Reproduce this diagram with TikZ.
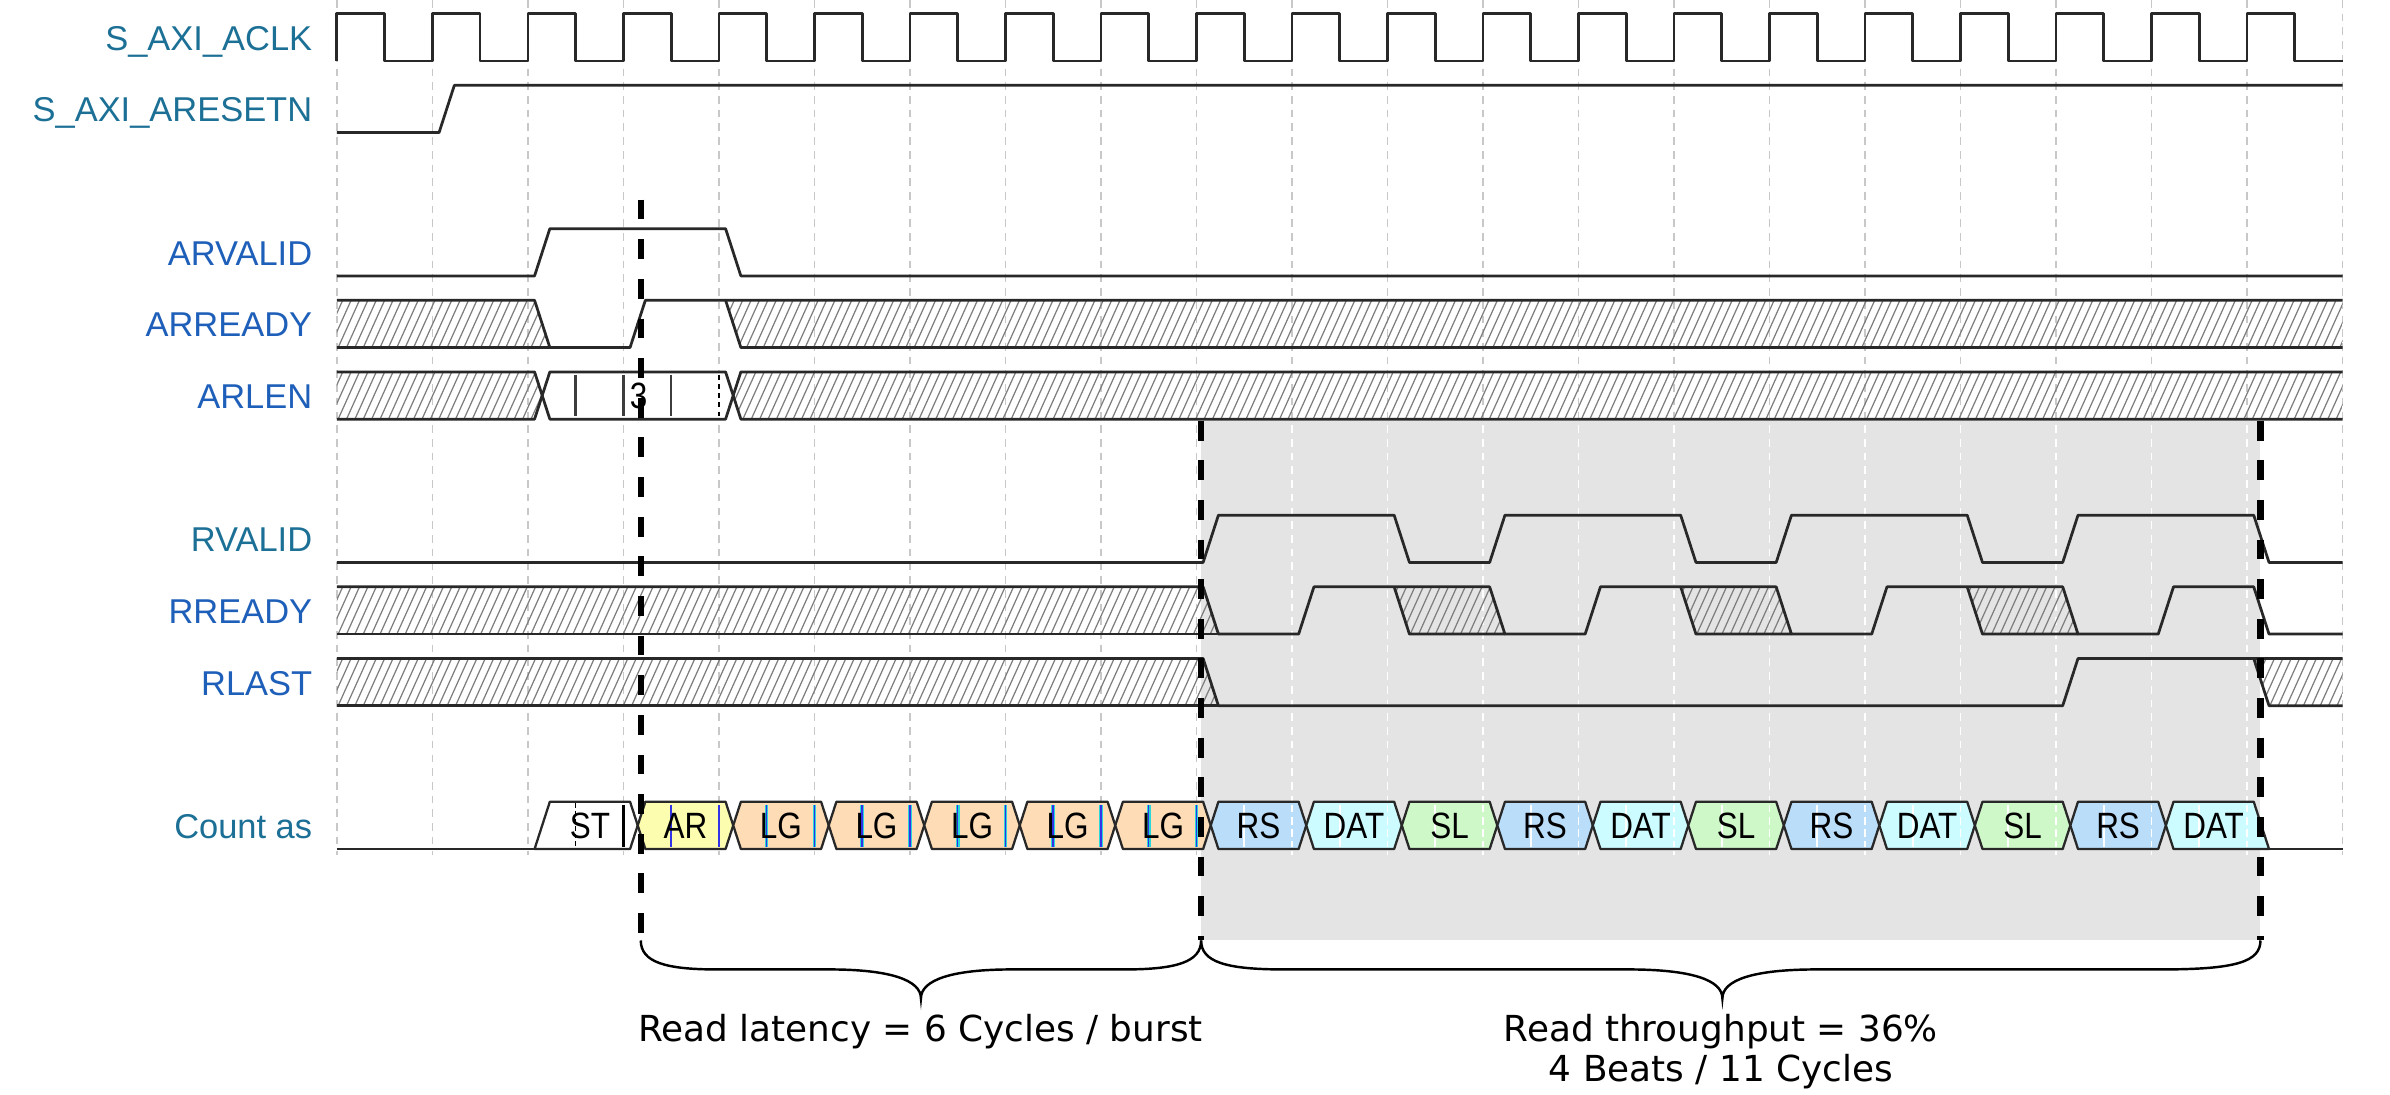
\documentclass[tikz,border=0pt]{standalone}
\usepackage{fontspec}
\setmainfont{Liberation Sans}
\newfontfamily\djv{DejaVu Sans}
\newfontfamily\boxfont[FakeStretch=0.86]{Liberation Sans}
\definecolor{lblT}{RGB}{28,112,150}
\definecolor{lblB}{RGB}{30,95,185}
\definecolor{sig}{RGB}{40,40,40}
\definecolor{gridc}{RGB}{200,200,200}
\definecolor{shadegray}{RGB}{228,228,228}
\definecolor{hat}{RGB}{125,125,125}
\definecolor{cAR}{RGB}{253,253,176}
\definecolor{cLG}{RGB}{253,220,182}
\definecolor{cRS}{RGB}{186,221,250}
\definecolor{cDAT}{RGB}{204,252,255}
\definecolor{cSL}{RGB}{206,248,200}
\definecolor{artB}{RGB}{50,50,230}
\definecolor{artC}{RGB}{40,215,215}
\tikzset{
  wave/.style={draw=sig, line width=1.8pt, line join=round},
  boxline/.style={draw=sig, line width=1.5pt, line join=round},
  hatchline/.style={draw=hat, line width=0.8pt},
  gridline/.style={draw=gridc, line width=1pt, dash pattern=on 5pt off 4pt},
  marker/.style={draw=black, line width=4pt, dash pattern=on 13pt off 13pt},
  bracepath/.style={draw=black, line width=1.6pt},
  siglabel/.style={anchor=base east, font=\fontsize{22.6}{26}\selectfont, inner sep=0pt},
  boxtext/.style={anchor=base, font=\boxfont\fontsize{24}{28}\selectfont, text=black, inner sep=0pt},
  note/.style={anchor=base, font=\djv\fontsize{23.5}{28}\selectfont, inner sep=0pt},
}
\newcommand{\hatchin}[4]{%
  \begin{scope}
    \clip #1;
    \pgfmathsetmacro{\hstart}{#3}%
    \pgfmathsetmacro{\hnext}{#3+0.0878}%
    \pgfmathsetmacro{\hend}{#4}%
    \foreach \hh in {\hstart,\hnext,...,\hend} {\draw[hatchline] (\hh,#2) -- (\hh+0.2234,#2-31);}
  \end{scope}}
\begin{document}
\begin{tikzpicture}[x=1pt,y=-1pt]
\useasboundingbox[fill=white] (0,0) rectangle (1568,718);
% shaded region
\fill[shadegray] (788,276) rectangle (1483,617);
\begin{scope}[x=62.66pt, xshift=221pt]
  % grid
  \foreach \k in {0,...,21} \draw[gridline] (\k,0) -- (\k,561);
  \begin{scope}
    \clip (9.049,276) rectangle (20.14,617);
    \foreach \k in {0,...,21} \draw[white, line width=1.2pt, dash pattern=on 5pt off 4pt] (\k,0) -- (\k,561);
  \end{scope}
  % S_AXI_ACLK
  \draw[wave] (0,40) \foreach \k in {0,...,20} { -- (\k,9) -- (\k+0.5,9) -- (\k+0.5,40) -- (\k+1,40) };
  % S_AXI_ARESETN
  \draw[wave] (0,87) -- (1.07,87) -- (1.23,56) -- (21,56);
  % ARVALID
  \draw[wave] (0,181) -- (2.07,181) -- (2.23,150) -- (4.07,150) -- (4.23,181) -- (21,181);
  % ARREADY
  \hatchin{(0,197) -- (2.07,197) -- (2.23,228) -- (0,228) -- cycle}{228}{-0.25}{2.3}
  \hatchin{(4.07,197) -- (21,197) -- (21,228) -- (4.23,228) -- cycle}{228}{3.85}{21}
  \draw[wave] (0,197) -- (2.07,197) -- (2.23,228);
  \draw[wave] (0,228) -- (3.07,228) -- (3.23,197) -- (21,197);
  \draw[wave] (4.07,197) -- (4.23,228) -- (21,228);
  % ARLEN
  \hatchin{(0,244) -- (2.07,244) -- (2.15,259.5) -- (2.07,275) -- (0,275) -- cycle}{275}{-0.25}{2.2}
  \fill[white] (2.15,259.5) -- (2.23,244) -- (4.07,244) -- (4.15,259.5) -- (4.07,275) -- (2.23,275) -- cycle;
  \hatchin{(4.15,259.5) -- (4.23,244) -- (21,244) -- (21,275) -- (4.23,275) -- cycle}{275}{3.9}{21}
  \foreach \v in {2.5,3.0,3.5} \draw[sig!90, line width=1.5pt] (\v,246) -- (\v,273);
  \draw[black, line width=1.5pt, dash pattern=on 3pt off 3pt] (4.0,246) -- (4.0,273);
  \draw[wave] (0,244) -- (2.07,244) -- (2.23,275) -- (4.07,275) -- (4.23,244) -- (21,244);
  \draw[wave] (0,275) -- (2.07,275) -- (2.23,244) -- (4.07,244) -- (4.23,275) -- (21,275);
  \node[boxtext] (arlen3) at (3.16,268) {3};
  % RVALID
  \draw[wave] (0,369) -- (9.07,369) -- (9.23,338) -- (11.07,338) -- (11.23,369) -- (12.07,369) -- (12.23,338) -- (14.07,338) -- (14.23,369) -- (15.07,369) -- (15.23,338) -- (17.07,338) -- (17.23,369) -- (18.07,369) -- (18.23,338) -- (20.07,338) -- (20.23,369) -- (21,369);
  % RREADY
  \hatchin{(0,385) -- (9.07,385) -- (9.23,416) -- (0,416) -- cycle}{416}{-0.25}{9.3}
  \hatchin{(11.07,385) -- (12.07,385) -- (12.23,416) -- (11.23,416) -- cycle}{416}{10.8}{12.3}
  \hatchin{(14.07,385) -- (15.07,385) -- (15.23,416) -- (14.23,416) -- cycle}{416}{13.8}{15.3}
  \hatchin{(17.07,385) -- (18.07,385) -- (18.23,416) -- (17.23,416) -- cycle}{416}{16.8}{18.3}
  \draw[wave] (0,385) -- (9.07,385) -- (9.23,416) -- (10.07,416) -- (10.23,385) -- (12.07,385) -- (12.23,416) -- (13.07,416) -- (13.23,385) -- (15.07,385) -- (15.23,416) -- (16.07,416) -- (16.23,385) -- (18.07,385) -- (18.23,416) -- (19.07,416) -- (19.23,385) -- (20.07,385) -- (20.23,416) -- (21,416);
  \draw[wave] (0,416) -- (9.23,416);
  \draw[wave] (11.07,385) -- (11.23,416) -- (12.23,416);
  \draw[wave] (14.07,385) -- (14.23,416) -- (15.23,416);
  \draw[wave] (17.07,385) -- (17.23,416) -- (18.23,416);
  % RLAST
  \hatchin{(0,432) -- (9.07,432) -- (9.23,463) -- (0,463) -- cycle}{463}{-0.25}{9.3}
  \hatchin{(20.07,432) -- (21,432) -- (21,463) -- (20.23,463) -- cycle}{463}{19.8}{21}
  \draw[wave] (0,432) -- (9.07,432) -- (9.23,463) -- (18.07,463) -- (18.23,432) -- (21,432);
  \draw[wave] (0,463) -- (9.23,463);
  \draw[wave] (20.07,432) -- (20.23,463) -- (21,463);
  % Count as
  \draw[wave] (0,557) -- (2.07,557);
  \filldraw[fill=white, boxline] (2.07,557) -- (2.23,526) -- (3.07,526) -- (3.15,541.5) -- (3.07,557) -- cycle;
  \foreach \n/\c in {3/cAR,4/cLG,5/cLG,6/cLG,7/cLG,8/cLG,9/cRS,10/cDAT,11/cSL,12/cRS,13/cDAT,14/cSL,15/cRS,16/cDAT,17/cSL,18/cRS}
    \filldraw[fill=\c, boxline] (\n+0.15,541.5) -- (\n+0.23,526) -- (\n+1.07,526) -- (\n+1.15,541.5) -- (\n+1.07,557) -- (\n+0.23,557) -- cycle;
  \filldraw[fill=cDAT, boxline] (19.15,541.5) -- (19.23,526) -- (20.07,526) -- (20.23,557) -- (19.23,557) -- cycle;
  \draw[wave] (20.23,557) -- (21,557);
  % marks inside the boxes
  \draw[black, line width=1pt, dash pattern=on 3pt off 2pt] (2.5,527) -- (2.5,556);
  \draw[black, line width=2pt] (3.0,528) -- (3.0,555.5);
  \foreach \v in {3.5,4.0} \draw[artB, line width=1.6pt] (\v,528) -- (\v,555.5);
  \foreach \n in {4,...,8} {
    \draw[artC, line width=2.4pt] (\n+0.5,528) -- (\n+0.5,555.5);
    \draw[artB, line width=1pt] (\n+0.5,528) -- (\n+0.5,555.5);
    \draw[artC, line width=2.4pt] (\n+1,528) -- (\n+1,555.5);
    \draw[artB, line width=1pt] (\n+1,528) -- (\n+1,555.5);
  }
  \foreach \n in {9,...,19} {
    \draw[white, line width=1.2pt] (\n+0.5,528) -- (\n+0.5,555.5);
    \draw[white, line width=1.2pt, dash pattern=on 5pt off 3pt] (\n+1,528) -- (\n+1,555.5);
  }
  \foreach \n/\t in {2/ST,3/AR,4/LG,5/LG,6/LG,7/LG,8/LG,9/RS,10/DAT,11/SL,12/RS,13/DAT,14/SL,15/RS,16/DAT,17/SL,18/RS,19/DAT}
    \node[boxtext] (cnt\n) at (\n+0.65,550) {\t};
\end{scope}
% markers
\coordinate (mAt) at (420.4,131); \coordinate (mAb) at (420.4,617);
\coordinate (mBt) at (788,276);   \coordinate (mBb) at (788,617);
\coordinate (mCt) at (1483,276);  \coordinate (mCb) at (1483,617);
\draw[marker] (mAt) -- (mAb);
\draw[marker] (mBt) -- (mBb);
\draw[marker] (mCt) -- (mCb);
% braces
\draw[bracepath] (mAb) .. controls (420.4,631) and (436,636) .. (470,636) -- (544,636) .. controls (584,636) and (604.2,643) .. (604.2,655) .. controls (604.2,643) and (624,636) .. (664,636) -- (738,636) .. controls (772,636) and (788,631) .. (mBb);
\draw[bracepath] (mBb) .. controls (788,631) and (804,636) .. (842,636) -- (1068,636) .. controls (1110,636) and (1130,643) .. (1130,655) .. controls (1130,643) and (1150,636) .. (1192,636) -- (1418,636) .. controls (1467,636) and (1483,631) .. (mCb);
\node[note] (lat) at (604,683) {Read latency = 6 Cycles / burst};
\node[note] (thr1) at (1129,683) {Read throughput = 36\%};
\node[note] (thr2) at (1129,709.5) {4 Beats / 11 Cycles};
% labels
\node[siglabel, text=lblT] (lACLK) at (205,33) {S\_AXI\_ACLK};
\node[siglabel, text=lblT] (lRST) at (205,80) {S\_AXI\_ARESETN};
\node[siglabel, text=lblB] (lARV) at (205,174) {ARVALID};
\node[siglabel, text=lblB] (lARR) at (205,221) {ARREADY};
\node[siglabel, text=lblB] (lARL) at (205,268) {ARLEN};
\node[siglabel, text=lblT] (lRV) at (205,362) {RVALID};
\node[siglabel, text=lblB] (lRR) at (205,409) {RREADY};
\node[siglabel, text=lblB] (lRL) at (205,456) {RLAST};
\node[siglabel, text=lblT] (lCNT) at (205,550) {Count as};
\end{tikzpicture}
\end{document}
